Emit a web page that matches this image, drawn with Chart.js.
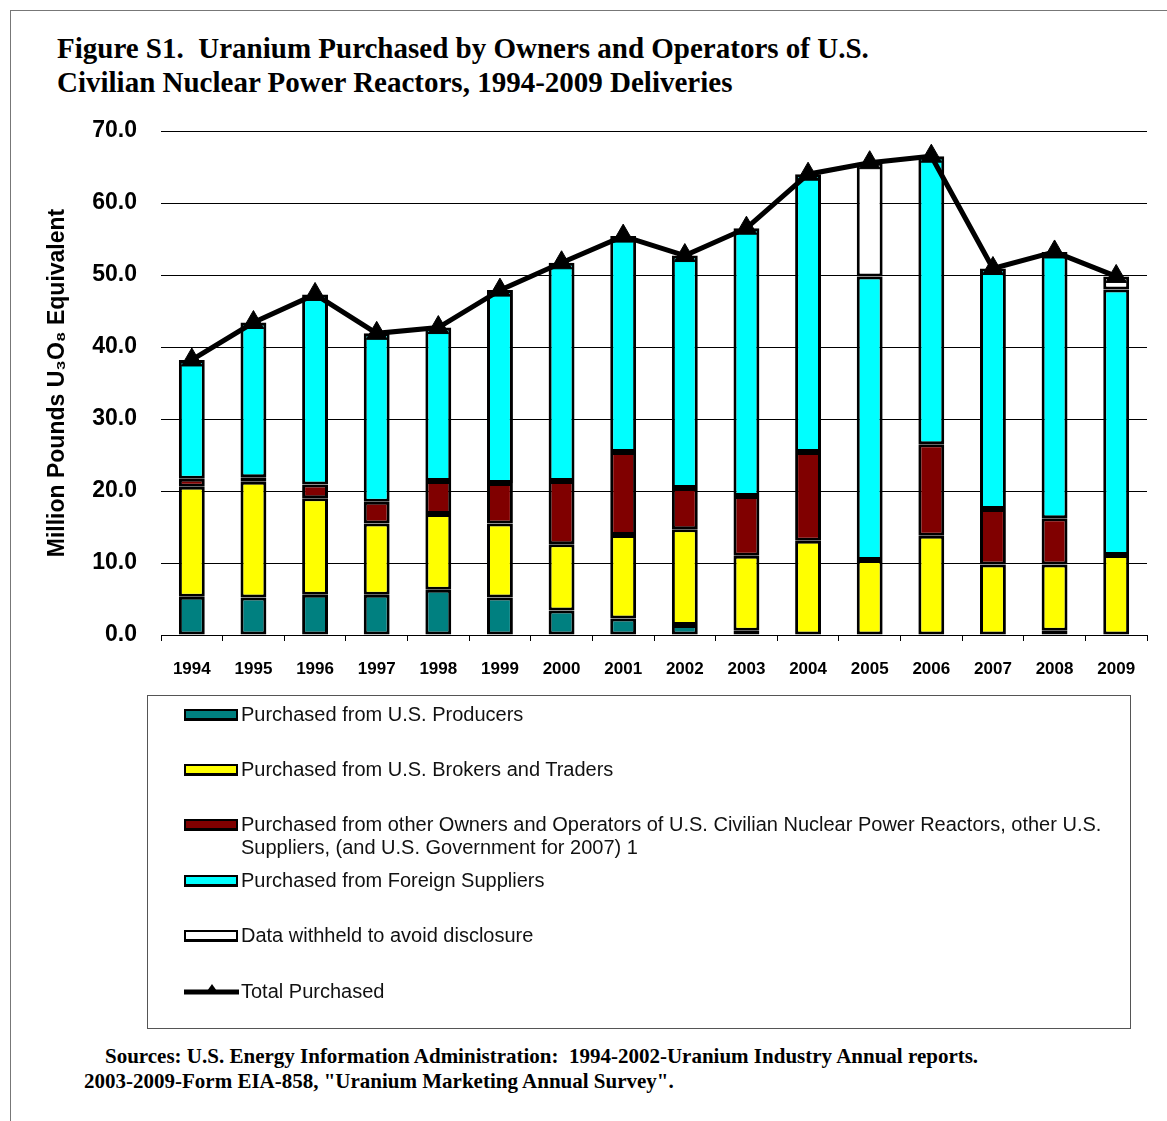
<!DOCTYPE html>
<html lang="en">
  <head>
    <meta charset="UTF-8" />
    <title>Figure S1. Uranium Purchased</title>
    <style>
      body {
        margin: 0;
        background-color: #ffffff;
      }
      .page {
        position: relative;
        width: 1167px;
        height: 1121px;
        overflow: hidden;
      }
      .frame {
        position: absolute;
        left: 10px;
        top: 10px;
        width: 1200px;
        height: 1200px;
        border-top: 1px solid #777;
        border-left: 1px solid #777;
      }
      .title {
        position: absolute;
        left: 57px;
        top: 31px;
        font: bold 29px "Liberation Serif", "Times New Roman", serif;
        line-height: 34px;
        color: #000;
      }
      canvas {
        position: absolute;
        left: 0;
        top: 0;
      }
      .legend {
        position: absolute;
        left: 147px;
        top: 695px;
        width: 982px;
        height: 332px;
        border: 1px solid #555;
      }
      .item {
        position: absolute;
        left: 36px;
        font: 20px "Liberation Sans", Arial, sans-serif;
        line-height: 23px;
        color: #111;
      }
      .item .sw {
        position: absolute;
        left: 0;
        top: 6px;
        width: 50px;
        height: 7px;
        border: 2px solid #000;
        border-bottom-width: 3px;
      }
      .item span.txt {
        display: block;
        margin-left: 57px;
      }
      .sources {
        position: absolute;
        left: 84px;
        top: 1044px;
        font: bold 21px "Liberation Serif", "Times New Roman", serif;
        line-height: 25px;
        color: #000;
      }
    </style>
  </head>
  <body>
    <div class="page">
      <div class="frame"></div>
      <div class="title">
        Figure S1.&nbsp; Uranium Purchased by Owners and Operators of U.S.<br />
        Civilian Nuclear Power Reactors, 1994-2009 Deliveries
      </div>
      <canvas id="myChart" width="1167" height="700"></canvas>
      <div class="legend" id="legend"></div>
      <div class="sources">
        &nbsp;&nbsp;&nbsp;&nbsp;Sources: U.S. Energy Information Administration:&nbsp; 1994-2002-Uranium Industry Annual reports.<br />
        2003-2009-Form EIA-858, "Uranium Marketing Annual Survey".
      </div>
    </div>

    <script src="https://cdn.jsdelivr.net/npm/chart.js"></script>
    <script>
      const years = ["1994", "1995", "1996", "1997", "1998", "1999", "2000", "2001",
        "2002", "2003", "2004", "2005", "2006", "2007", "2008", "2009"];

      // million pounds U3O8 equivalent
      const producers = [5.3, 5.2, 5.6, 5.6, 6.3, 5.2, 3.4, 2.3, 1.4, 0.6, 0, 0, 0, 0, 0.6, 0];
      const brokers = [15.3, 16.1, 13.4, 9.9, 10.5, 10.3, 9.2, 11.6, 13.3, 10.4, 13.1, 10.4, 13.8, 9.8, 9.2, 11.1];
      const otherOwners = [1.1, 0.6, 1.9, 3.0, 4.6, 5.6, 8.8, 11.5, 5.7, 8.3, 12.3, 0, 12.7, 7.7, 6.4, 0];
      const foreign = [16.5, 21.5, 26.4, 23.4, 21.3, 26.8, 30.3, 30.0, 32.3, 37.2, 38.6, 39.4, 40.0, 33.4, 37.0, 36.9];
      const withheld = [null, null, null, null, null, null, null, null, null, null, null, 15.8, null, null, null, 1.8];
      const total = [38.2, 43.4, 47.3, 41.9, 42.7, 47.9, 51.7, 55.4, 52.7, 56.5, 64.0, 65.6, 66.5, 50.9, 53.2, 49.8];

      const yTicks = [0, 10, 20, 30, 40, 50, 60, 70];

      const labels = {
        producers: "Purchased from U.S. Producers",
        brokers: "Purchased from U.S. Brokers and Traders",
        other: "Purchased from other Owners and Operators of U.S. Civilian Nuclear Power Reactors, other U.S. Suppliers, (and U.S. Government for 2007) 1",
        foreign: "Purchased from Foreign Suppliers",
        withheld: "Data withheld to avoid disclosure",
        total: "Total Purchased",
      };

      function barSet(label, values, color) {
        return {
          type: "bar",
          label: label,
          data: values,
          backgroundColor: color,
          borderColor: "#000",
          borderWidth: 3,
          borderSkipped: false,
          stack: "s",
          order: 1,
        };
      }

      const data = {
        labels: years,
        datasets: [
          barSet(labels.producers, producers, "#008080"),
          barSet(labels.brokers, brokers, "#ffff00"),
          barSet(labels.other, otherOwners, "#800000"),
          barSet(labels.foreign, foreign, "#00ffff"),
          barSet(labels.withheld, withheld, "#ffffff"),
          {
            type: "line",
            label: labels.total,
            data: total,
            borderColor: "#000",
            borderWidth: 5,
            pointStyle: "triangle",
            pointRadius: 12,
            pointBackgroundColor: "#000",
            pointBorderColor: "#000",
            pointBorderWidth: 1,
            stack: "total",
            order: 0,
          },
        ],
      };

      const config = {
        type: "bar",
        data: data,
        options: {
          responsive: false,
          animation: false,
          categoryPercentage: 1,
          barPercentage: 0.42,
          layout: {
            padding: { left: 41, right: 20, top: 131, bottom: 15 },
          },
          plugins: {
            legend: { display: false },
            tooltip: { enabled: false },
          },
          scales: {
            x: {
              stacked: true,
              afterFit: (scale) => {
                scale.height = 50;
              },
              grid: {
                offset: true,
                drawOnChartArea: false,
                drawTicks: true,
                tickLength: 6,
                color: "#000",
              },
              border: { display: true, color: "#000", width: 1 },
              ticks: {
                color: "#000",
                padding: 18,
                font: { family: "Liberation Sans, Arial", size: 17, weight: "bold" },
              },
            },
            y: {
              stacked: true,
              min: 0,
              max: 70,
              afterFit: (scale) => {
                scale.width = 120;
              },
              afterBuildTicks: (scale) => {
                scale.ticks = yTicks.map((v) => ({ value: v }));
              },
              grid: {
                color: "#000",
                lineWidth: 1,
                drawTicks: false,
              },
              border: { display: false },
              ticks: {
                color: "#000",
                padding: 24,
                callback: (v) => Number(v).toFixed(1),
                font: { family: "Liberation Sans, Arial", size: 23, weight: "bold" },
              },
              title: {
                display: true,
                text: "Million Pounds U\u2083O\u2088 Equivalent",
                color: "#000",
                padding: { top: 3, bottom: 4 },
                font: { family: "Liberation Sans, Arial", size: 23, weight: "bold" },
              },
            },
          },
        },
      };

      const ctx = document.getElementById("myChart");
      new Chart(ctx, config);

      // legend box below the chart, one entry per row like the original
      const legendRows = [
        { key: "producers", color: "#008080", top: 7 },
        { key: "brokers", color: "#ffff00", top: 62 },
        { key: "other", color: "#800000", top: 117 },
        { key: "foreign", color: "#00ffff", top: 173 },
        { key: "withheld", color: "#ffffff", top: 228 },
        { key: "total", color: null, top: 284 },
      ];
      const box = document.getElementById("legend");
      legendRows.forEach((row) => {
        const el = document.createElement("div");
        el.className = "item";
        el.style.top = row.top + "px";
        el.style.width = "920px";
        if (row.color) {
          el.innerHTML = '<div class="sw" style="background:' + row.color + '"></div>';
        } else {
          el.innerHTML =
            '<svg width="56" height="20" style="position:absolute;left:0;top:1px">' +
            '<line x1="0" y1="11" x2="55" y2="11" stroke="#000" stroke-width="5"/>' +
            '<polygon points="28,3 35,13 21,13" fill="#000"/></svg>';
        }
        el.innerHTML += '<span class="txt">' + labels[row.key] + "</span>";
        box.appendChild(el);
      });
    </script>
  </body>
</html>
